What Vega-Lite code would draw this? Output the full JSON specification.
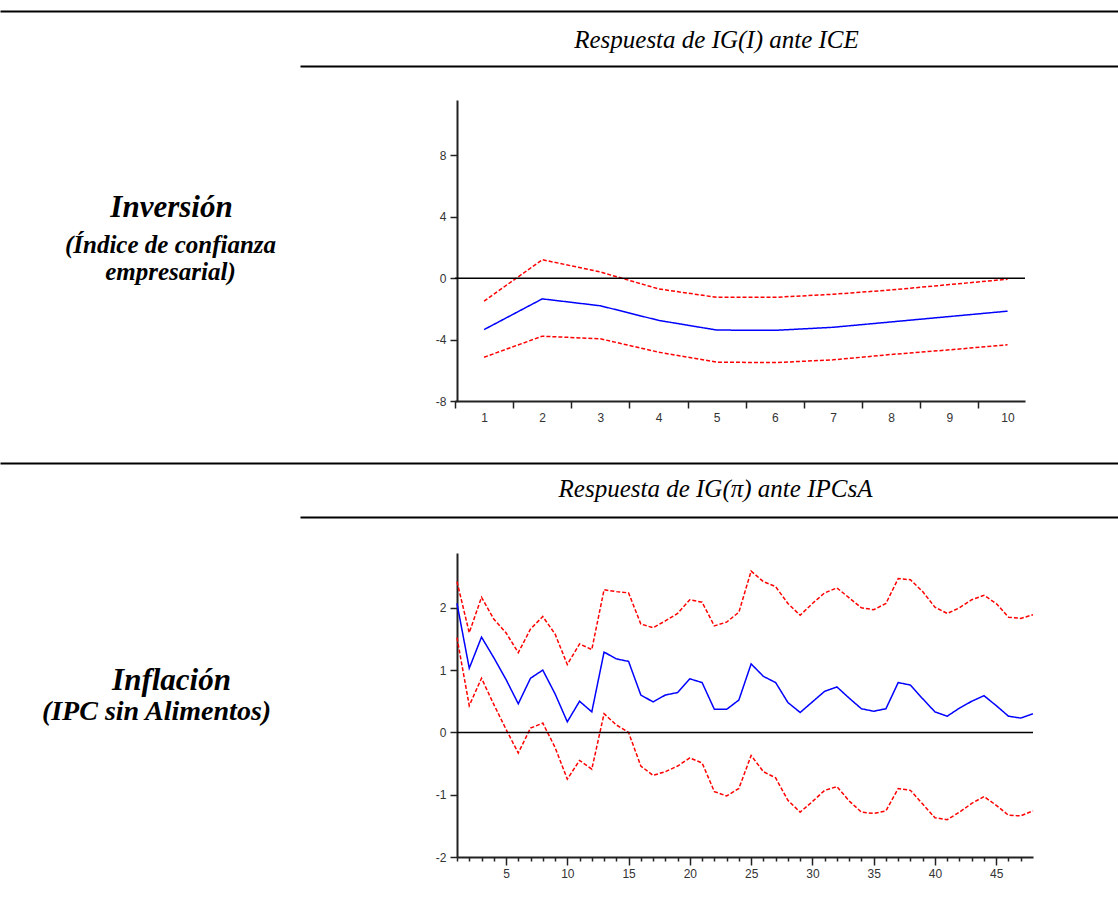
{
  "$schema": "https://vega.github.io/schema/vega-lite/v6.json",
  "width": 1118,
  "height": 917,
  "padding": 0,
  "autosize": {"type": "none"},
  "background": "#ffffff",
  "config": {
    "view": {"stroke": null},
    "axis": {
      "grid": false,
      "labelFont": "Liberation Sans",
      "labelFontSize": 12,
      "labelColor": "#333333",
      "domainColor": "#222222",
      "tickColor": "#222222",
      "titleFont": "Liberation Serif",
      "titleColor": "#000000",
      "labelFlush": false,
      "labelOverlap": false
    }
  },
  "datasets": {
    "top": [
      {"period": 1, "irf": -3.35, "lower": -5.15, "upper": -1.5},
      {"period": 2, "irf": -1.35, "lower": -3.78, "upper": 1.2},
      {"period": 3, "irf": -1.8, "lower": -3.95, "upper": 0.4},
      {"period": 4, "irf": -2.75, "lower": -4.82, "upper": -0.7},
      {"period": 5, "irf": -3.38, "lower": -5.47, "upper": -1.25},
      {"period": 6, "irf": -3.4, "lower": -5.5, "upper": -1.25},
      {"period": 7, "irf": -3.2, "lower": -5.32, "upper": -1.05},
      {"period": 8, "irf": -2.85, "lower": -4.97, "upper": -0.77},
      {"period": 9, "irf": -2.5, "lower": -4.67, "upper": -0.42},
      {"period": 10, "irf": -2.15, "lower": -4.34, "upper": -0.07}
    ],
    "bottom": [
      {"period": 1, "irf": 2.07, "upper": 2.42, "lower": 1.52},
      {"period": 2, "irf": 1.03, "upper": 1.6, "lower": 0.43},
      {"period": 3, "irf": 1.53, "upper": 2.17, "lower": 0.87},
      {"period": 4, "irf": 1.2, "upper": 1.82, "lower": 0.45},
      {"period": 5, "irf": 0.85, "upper": 1.6, "lower": 0.05},
      {"period": 6, "irf": 0.46, "upper": 1.28, "lower": -0.33},
      {"period": 7, "irf": 0.87, "upper": 1.66, "lower": 0.07},
      {"period": 8, "irf": 1.0, "upper": 1.86, "lower": 0.15},
      {"period": 9, "irf": 0.62, "upper": 1.58, "lower": -0.24},
      {"period": 10, "irf": 0.17, "upper": 1.09, "lower": -0.75},
      {"period": 11, "irf": 0.5, "upper": 1.42, "lower": -0.45},
      {"period": 12, "irf": 0.33, "upper": 1.33, "lower": -0.59},
      {"period": 13, "irf": 1.29, "upper": 2.29, "lower": 0.3},
      {"period": 14, "irf": 1.18, "upper": 2.26, "lower": 0.12},
      {"period": 15, "irf": 1.14, "upper": 2.24, "lower": 0.0},
      {"period": 16, "irf": 0.6, "upper": 1.74, "lower": -0.54},
      {"period": 17, "irf": 0.49, "upper": 1.68, "lower": -0.69},
      {"period": 18, "irf": 0.6, "upper": 1.79, "lower": -0.63},
      {"period": 19, "irf": 0.64, "upper": 1.91, "lower": -0.54},
      {"period": 20, "irf": 0.86, "upper": 2.13, "lower": -0.41},
      {"period": 21, "irf": 0.8, "upper": 2.09, "lower": -0.49},
      {"period": 22, "irf": 0.37, "upper": 1.71, "lower": -0.95},
      {"period": 23, "irf": 0.37, "upper": 1.77, "lower": -1.02},
      {"period": 24, "irf": 0.52, "upper": 1.93, "lower": -0.9},
      {"period": 25, "irf": 1.1, "upper": 2.59, "lower": -0.37},
      {"period": 26, "irf": 0.9, "upper": 2.42, "lower": -0.63},
      {"period": 27, "irf": 0.8, "upper": 2.34, "lower": -0.73},
      {"period": 28, "irf": 0.48, "upper": 2.07, "lower": -1.09},
      {"period": 29, "irf": 0.32, "upper": 1.88, "lower": -1.28},
      {"period": 30, "irf": 0.49, "upper": 2.07, "lower": -1.11},
      {"period": 31, "irf": 0.66, "upper": 2.24, "lower": -0.93},
      {"period": 32, "irf": 0.73, "upper": 2.32, "lower": -0.87},
      {"period": 33, "irf": 0.55, "upper": 2.16, "lower": -1.1},
      {"period": 34, "irf": 0.38, "upper": 2.0, "lower": -1.28},
      {"period": 35, "irf": 0.34, "upper": 1.97, "lower": -1.3},
      {"period": 36, "irf": 0.38, "upper": 2.07, "lower": -1.26},
      {"period": 37, "irf": 0.8, "upper": 2.47, "lower": -0.9},
      {"period": 38, "irf": 0.76, "upper": 2.45, "lower": -0.93},
      {"period": 39, "irf": 0.54, "upper": 2.26, "lower": -1.15},
      {"period": 40, "irf": 0.33, "upper": 2.01, "lower": -1.37},
      {"period": 41, "irf": 0.26, "upper": 1.91, "lower": -1.4},
      {"period": 42, "irf": 0.39, "upper": 2.0, "lower": -1.28},
      {"period": 43, "irf": 0.5, "upper": 2.13, "lower": -1.14},
      {"period": 44, "irf": 0.59, "upper": 2.2, "lower": -1.03},
      {"period": 45, "irf": 0.43, "upper": 2.07, "lower": -1.17},
      {"period": 46, "irf": 0.26, "upper": 1.85, "lower": -1.33},
      {"period": 47, "irf": 0.23, "upper": 1.83, "lower": -1.34},
      {"period": 48, "irf": 0.3, "upper": 1.89, "lower": -1.26}
    ],
    "one": [{"a": 0}]
  },
  "layer": [
    {
      "layer": [
        {
          "data": {"name": "top"},
          "transform": [{"fold": ["lower", "upper", "irf"], "as": ["serie", "valor"]}],
          "mark": {"type": "line", "strokeWidth": 1.5},
          "encoding": {
            "x": {
              "field": "period", "type": "quantitative",
              "scale": {"domain": [0.5, 10.3], "range": [455, 1025], "nice": false, "zero": false},
              "axis": {
                "orient": "bottom", "offset": -516,
                "values": [0.5, 1.5, 2.5, 3.5, 4.5, 5.5, 6.5, 7.5, 8.5, 9.5],
                "labelExpr": "'' + (datum.value + 0.5)",
                "labelOffset": 29, "tickSize": 7, "tickWidth": 1.5, "domainWidth": 2, "labelPadding": 4,
                "labelOverlap": false,
                "title": null
              }
            },
            "y": {
              "field": "valor", "type": "quantitative",
              "scale": {"domain": [-8, 11.6], "range": [401, 100], "nice": false, "zero": false},
              "axis": {
                "orient": "left", "offset": -457,
                "values": [-8, -4, 0, 4, 8],
                "labelExpr": "'' + datum.value",
                "tickSize": 7, "tickWidth": 1.5, "domainWidth": 2, "labelPadding": 4,
                "title": ["(Índice de confianza", "empresarial)"],
                "titleAngle": 0, "titleX": -287, "titleY": 244, "titleAlign": "center", "titleBaseline": "middle",
                "titleFontSize": 25, "titleFontStyle": "italic", "titleFontWeight": "bold", "titleLineHeight": 27
              }
            },
            "color": {
              "field": "serie", "type": "nominal",
              "scale": {"domain": ["irf", "lower", "upper"], "range": ["#0000ff", "#ff0000", "#ff0000"]},
              "legend": null
            },
            "strokeDash": {
              "field": "serie", "type": "nominal",
              "scale": {"domain": ["irf", "lower", "upper"], "range": [[1, 0], [4, 2], [4, 2]]},
              "legend": null
            }
          }
        },
        {
          "data": {"name": "one"},
          "mark": {"type": "rule", "color": "#000000", "strokeWidth": 1.5},
          "encoding": {
            "x": {"datum": 0.5, "type": "quantitative"},
            "x2": {"datum": 10.3},
            "y": {"datum": 0, "type": "quantitative"}
          }
        }
      ]
    },
    {
      "layer": [
        {
          "data": {"name": "bottom"},
          "transform": [{"fold": ["lower", "upper", "irf"], "as": ["serie", "valor"]}],
          "mark": {"type": "line", "strokeWidth": 1.5},
          "encoding": {
            "x": {
              "field": "period", "type": "quantitative",
              "scale": {"domain": [1, 48], "range": [457, 1033], "nice": false, "zero": false},
              "axis": {
                "orient": "bottom", "offset": -60,
                "values": [5, 10, 15, 20, 25, 30, 35, 40, 45],
                "labelExpr": "'' + datum.value",
                "labelOverlap": false,
                "tickSize": 8,
                "tickWidth": 1.5, "domainWidth": 2, "labelPadding": 3,
                "title": null
              }
            },
            "y": {
              "field": "valor", "type": "quantitative",
              "scale": {"domain": [-2, 2.88], "range": [857, 553], "nice": false, "zero": false},
              "axis": {
                "orient": "left", "offset": -457,
                "values": [-2, -1, 0, 1, 2],
                "labelExpr": "'' + datum.value",
                "tickSize": 7, "tickWidth": 1.5, "domainWidth": 2, "labelPadding": 4,
                "title": "(IPC sin Alimentos)",
                "titleAngle": 0, "titleX": -301, "titleY": 711, "titleAlign": "center", "titleBaseline": "middle",
                "titleFontSize": 28, "titleFontStyle": "italic", "titleFontWeight": "bold"
              }
            },
            "color": {
              "field": "serie", "type": "nominal",
              "scale": {"domain": ["irf", "lower", "upper"], "range": ["#0000ff", "#ff0000", "#ff0000"]},
              "legend": null
            },
            "strokeDash": {
              "field": "serie", "type": "nominal",
              "scale": {"domain": ["irf", "lower", "upper"], "range": [[1, 0], [4, 2], [4, 2]]},
              "legend": null
            }
          }
        },
        {
          "data": {"name": "one"},
          "mark": {"type": "rule", "color": "#000000", "strokeWidth": 1.5},
          "encoding": {
            "x": {"datum": 1, "type": "quantitative"},
            "x2": {"datum": 48},
            "y": {"datum": 0, "type": "quantitative"}
          }
        }
      ]
    },
    {
      "data": {"name": "one"},
      "mark": {"type": "point", "opacity": 0},
      "encoding": {
        "x": {
          "field": "a", "type": "quantitative",
          "scale": {"domain": [1, 48], "range": [457, 1033], "nice": false, "zero": false},
          "axis": {
            "orient": "bottom", "offset": -60, "domain": false, "labels": false, "title": null,
            "values": [1, 2, 3, 4, 6, 7, 8, 9, 11, 12, 13, 14, 16, 17, 18, 19, 21, 22, 23, 24, 26, 27, 28, 29, 31, 32, 33, 34, 36, 37, 38, 39, 41, 42, 43, 44, 46, 47],
            "tickSize": 4, "tickWidth": 1.5
          }
        }
      }
    },
    {
      "data": {"name": "one"},
      "mark": {"type": "point", "opacity": 0},
      "encoding": {
        "x": {
          "field": "a", "type": "quantitative",
          "scale": {"domain": [0, 1], "range": [0, 1118]},
          "axis": {"orient": "top", "offset": -11, "domain": true, "domainWidth": 2, "domainColor": "#000000", "ticks": false, "labels": false, "title": null}
        },
        "y": {
          "field": "a", "type": "quantitative",
          "scale": {"domain": [0, 1]},
          "axis": {
            "orient": "left", "offset": 0, "domain": false, "ticks": false, "labels": false,
            "title": "Inversión", "titleAngle": 0, "titleX": 171, "titleY": 207,
            "titleAlign": "center", "titleBaseline": "middle",
            "titleFontSize": 31, "titleFontStyle": "italic", "titleFontWeight": "bold"
          }
        }
      }
    },
    {
      "data": {"name": "one"},
      "mark": {"type": "point", "opacity": 0},
      "encoding": {
        "x": {
          "field": "a", "type": "quantitative",
          "scale": {"domain": [0, 1], "range": [300, 1118]},
          "axis": {
            "orient": "top", "offset": -66, "domain": true, "domainWidth": 2, "domainColor": "#000000", "ticks": false, "labels": false,
            "title": "Respuesta de IG(I) ante ICE", "titleX": 716, "titleY": -27,
            "titleAlign": "center", "titleBaseline": "middle",
            "titleFontSize": 25, "titleFontStyle": "italic", "titleFontWeight": "normal"
          }
        }
      }
    },
    {
      "data": {"name": "one"},
      "mark": {"type": "point", "opacity": 0},
      "encoding": {
        "x": {
          "field": "a", "type": "quantitative",
          "scale": {"domain": [0, 1], "range": [0, 1118]},
          "axis": {"orient": "top", "offset": -463, "domain": true, "domainWidth": 2, "domainColor": "#000000", "ticks": false, "labels": false, "title": null}
        },
        "y": {
          "field": "a", "type": "quantitative",
          "scale": {"domain": [0, 1]},
          "axis": {
            "orient": "left", "offset": 0, "domain": false, "ticks": false, "labels": false,
            "title": "Inflación", "titleAngle": 0, "titleX": 171, "titleY": 680,
            "titleAlign": "center", "titleBaseline": "middle",
            "titleFontSize": 31, "titleFontStyle": "italic", "titleFontWeight": "bold"
          }
        }
      }
    },
    {
      "data": {"name": "one"},
      "mark": {"type": "point", "opacity": 0},
      "encoding": {
        "x": {
          "field": "a", "type": "quantitative",
          "scale": {"domain": [0, 1], "range": [300, 1118]},
          "axis": {
            "orient": "top", "offset": -517, "domain": true, "domainWidth": 2, "domainColor": "#000000", "ticks": false, "labels": false,
            "title": "Respuesta de IG(π) ante IPCsA", "titleX": 715, "titleY": -29,
            "titleAlign": "center", "titleBaseline": "middle",
            "titleFontSize": 25, "titleFontStyle": "italic", "titleFontWeight": "normal"
          }
        }
      }
    }
  ],
  "resolve": {"scale": {"x": "independent", "y": "independent"}}
}
